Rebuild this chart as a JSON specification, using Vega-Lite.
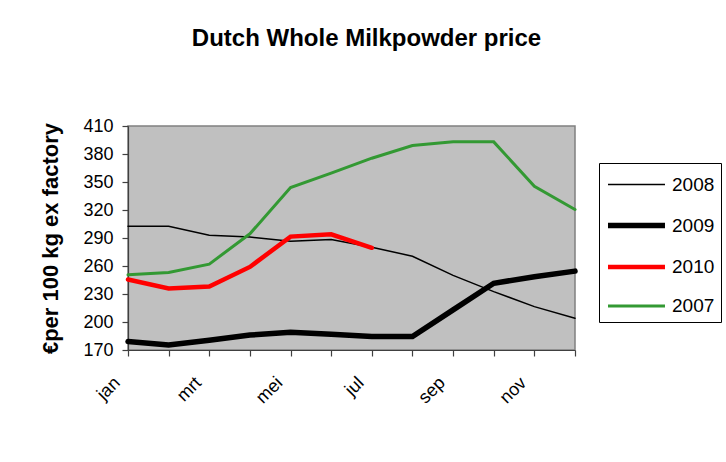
{
  "$schema": "https://vega.github.io/schema/vega-lite/v6.json",
  "width": 447,
  "height": 224,
  "autosize": {"type": "none"},
  "padding": {"left": 128, "top": 126, "right": 151, "bottom": 112},
  "background": "white",
  "title": {
    "text": "Dutch Whole Milkpowder price",
    "fontSize": 24,
    "fontWeight": "bold",
    "font": "Liberation Sans",
    "color": "black",
    "anchor": "middle",
    "frame": "group",
    "baseline": "alphabetic",
    "offset": 47,
    "dx": 15
  },
  "data": {
    "values": [
      {"month": "jan", "year": "2008", "price": 302.5},
      {"month": "feb", "year": "2008", "price": 302.5},
      {"month": "mrt", "year": "2008", "price": 293},
      {"month": "apr", "year": "2008", "price": 291},
      {"month": "mei", "year": "2008", "price": 286.5},
      {"month": "jun", "year": "2008", "price": 288.5},
      {"month": "jul", "year": "2008", "price": 280},
      {"month": "aug", "year": "2008", "price": 270.5},
      {"month": "sep", "year": "2008", "price": 250},
      {"month": "okt", "year": "2008", "price": 232.5},
      {"month": "nov", "year": "2008", "price": 216.5},
      {"month": "dec", "year": "2008", "price": 204},
      {"month": "jan", "year": "2009", "price": 179},
      {"month": "feb", "year": "2009", "price": 175.5},
      {"month": "mrt", "year": "2009", "price": 180.5},
      {"month": "apr", "year": "2009", "price": 186},
      {"month": "mei", "year": "2009", "price": 189},
      {"month": "jun", "year": "2009", "price": 187},
      {"month": "jul", "year": "2009", "price": 184.5},
      {"month": "aug", "year": "2009", "price": 184.5},
      {"month": "sep", "year": "2009", "price": 213},
      {"month": "okt", "year": "2009", "price": 241.5},
      {"month": "nov", "year": "2009", "price": 248.5},
      {"month": "dec", "year": "2009", "price": 254.5},
      {"month": "jan", "year": "2010", "price": 245.5},
      {"month": "feb", "year": "2010", "price": 236},
      {"month": "mrt", "year": "2010", "price": 238},
      {"month": "apr", "year": "2010", "price": 259},
      {"month": "mei", "year": "2010", "price": 291.5},
      {"month": "jun", "year": "2010", "price": 294},
      {"month": "jul", "year": "2010", "price": 279.5},
      {"month": "jan", "year": "2007", "price": 250.5},
      {"month": "feb", "year": "2007", "price": 253},
      {"month": "mrt", "year": "2007", "price": 262},
      {"month": "apr", "year": "2007", "price": 294.5},
      {"month": "mei", "year": "2007", "price": 344},
      {"month": "jun", "year": "2007", "price": 359.5},
      {"month": "jul", "year": "2007", "price": 375.5},
      {"month": "aug", "year": "2007", "price": 389},
      {"month": "sep", "year": "2007", "price": 393},
      {"month": "okt", "year": "2007", "price": 393},
      {"month": "nov", "year": "2007", "price": 345.5},
      {"month": "dec", "year": "2007", "price": 320.5}
    ]
  },
  "mark": {"type": "line", "strokeCap": "round", "strokeJoin": "miter"},
  "encoding": {
    "x": {
      "field": "month",
      "type": "ordinal",
      "sort": ["jan", "feb", "mrt", "apr", "mei", "jun", "jul", "aug", "sep", "okt", "nov", "dec"],
      "scale": {"type": "point", "padding": 0},
      "axis": {
        "title": null,
        "labelAngle": -45,
        "labelAlign": "right",
        "labelBaseline": "middle",
        "labelPadding": 24,
        "labelOffset": -11,
        "labelFontSize": 18,
        "labelExpr": "indexof(['jan','mrt','mei','jul','sep','nov'], datum.value) >= 0 ? datum.value : ''",
        "grid": false,
        "tickSize": 6,
        "domainColor": "#404040",
        "tickColor": "#404040"
      }
    },
    "y": {
      "field": "price",
      "type": "quantitative",
      "scale": {"domain": [170, 410], "nice": false, "zero": false},
      "axis": {
        "title": "€per 100 kg ex factory",
        "titleFontSize": 22,
        "titleFontWeight": "bold",
        "titlePadding": 20,
        "values": [170, 200, 230, 260, 290, 320, 350, 380, 410],
        "labelFontSize": 18,
        "labelPadding": 9,
        "grid": false,
        "tickSize": 6,
        "domainColor": "#404040",
        "tickColor": "#404040"
      }
    },
    "color": {
      "field": "year",
      "type": "nominal",
      "scale": {"domain": ["2008", "2009", "2010", "2007"], "range": ["#000000", "#000000", "#ff0000", "#339933"]},
      "legend": {"title": null}
    },
    "strokeWidth": {
      "field": "year",
      "type": "nominal",
      "scale": {"type": "ordinal", "domain": ["2008", "2009", "2010", "2007"], "range": [1.5, 5.5, 4.5, 3]},
      "legend": {"title": null}
    }
  },
  "config": {
    "font": "Liberation Sans",
    "view": {"fill": "#c0c0c0", "stroke": "#808080", "strokeWidth": 1.5},
    "axis": {"labelColor": "black", "titleColor": "black", "domainWidth": 1.2, "tickWidth": 1.2},
    "legend": {
      "orient": "none",
      "legendX": 471,
      "legendY": 37,
      "direction": "vertical",
      "strokeColor": "black",
      "fillColor": "white",
      "padding": 6,
      "symbolType": "M-1,0H2.93",
      "symbolSize": 841,
      "rowPadding": 13,
      "labelOffset": 32,
      "labelFontSize": 19,
      "labelColor": "black",
      "labelLimit": 200,
      "symbolLimit": 10
    }
  }
}
